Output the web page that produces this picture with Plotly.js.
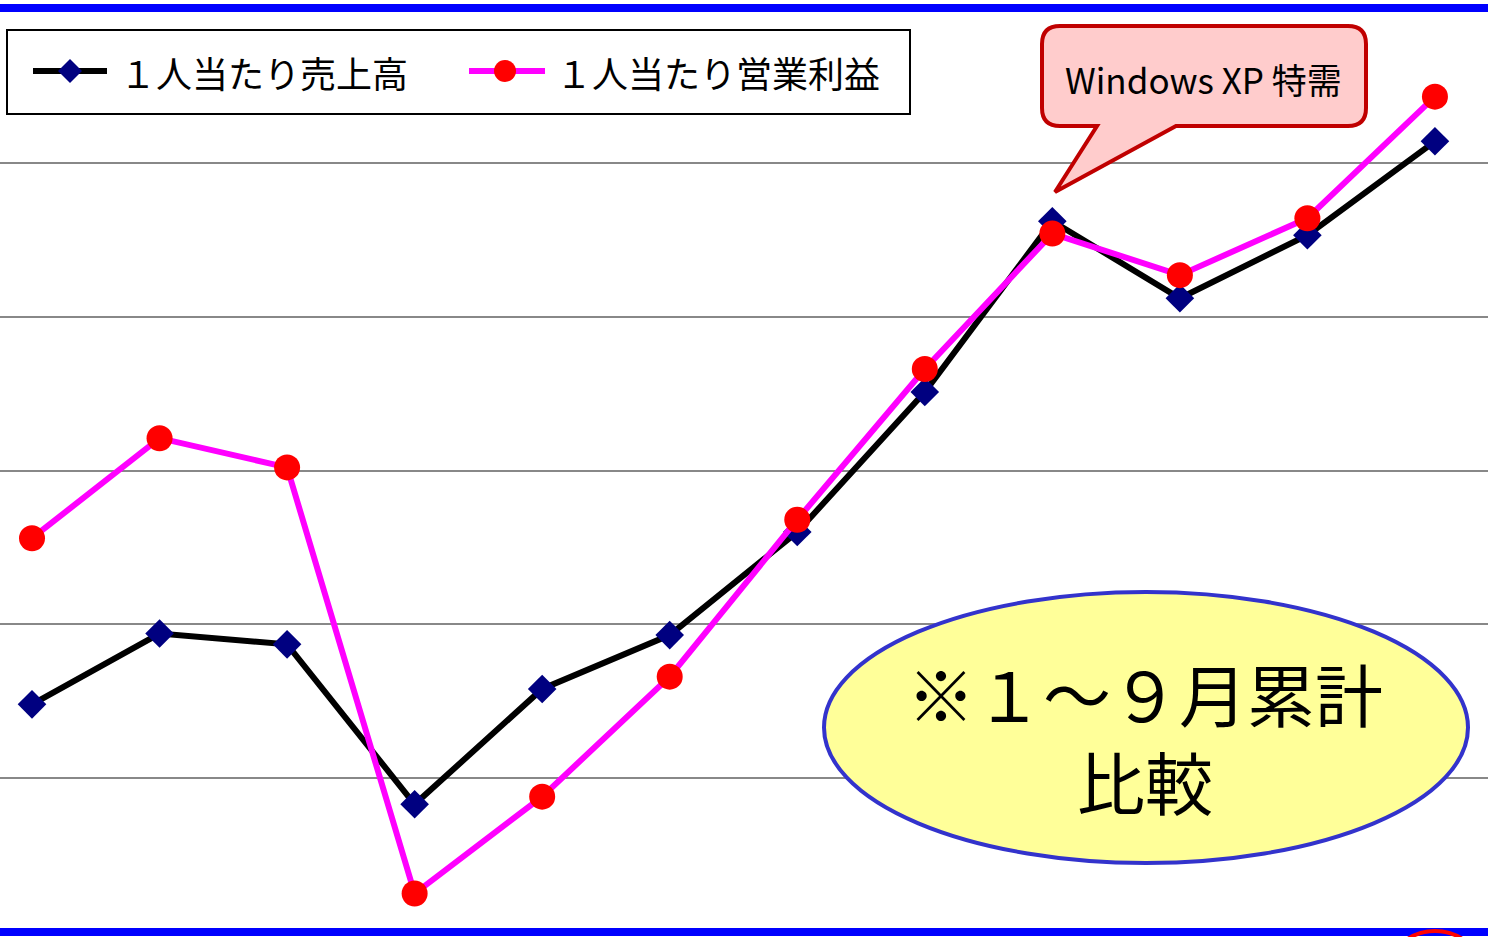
<!DOCTYPE html>
<html>
<head>
<meta charset="utf-8">
<script src="https://cdn.plot.ly/plotly-3.0.1.min.js"></script>
<style>html,body{margin:0;padding:0;background:#fff;}#chart{width:1488px;height:937px;}</style>
</head>
<body>
<div id="chart"></div>
<script>
// ---- data (y axis has no labels, gridline spacing = 1 unit) ----
const periods = [1, 2, 3, 4, 5, 6, 7, 8, 9, 10, 11, 12];
const salesPerHead = [1.48, 1.94, 1.87, 0.83, 1.58, 1.93, 2.60, 3.51, 4.62, 4.12, 4.53, 5.14];
const profitPerHead = [2.56, 3.21, 3.02, 0.25, 0.88, 1.66, 2.68, 3.66, 4.54, 4.27, 4.64, 5.43];
const seriesNames = ['１人当たり売上高', '１人当たり営業利益'];
const calloutText = 'Windows XP 特需';
const noteLines = ['※１～９月累計', '比較'];

// ---- geometry helpers (pixel -> paper) ----
const W = 1488, H = 937, T = 9, B = 932;
const fx = x => x / W;
const fy = y => (B - y) / (B - T);
const FONT = '"Noto Sans CJK JP", "Noto Sans", sans-serif';

const traces = [
  {
    x: periods, y: salesPerHead, name: seriesNames[0], type: 'scatter', mode: 'lines+markers',
    line: {color: '#000000', width: 6},
    marker: {symbol: 'diamond', color: '#000080', size: 22},
    showlegend: false, cliponaxis: false
  },
  {
    x: periods, y: profitPerHead, name: seriesNames[1], type: 'scatter', mode: 'lines+markers',
    line: {color: '#FF00FF', width: 6},
    marker: {symbol: 'circle', color: '#FF0000', size: 26},
    showlegend: false, cliponaxis: false
  }
];

// callout path
function calloutPath() {
  const L = 1042, Tp = 26, R = 1366, Bt = 126, r = 18;
  const P = (x, y) => fx(x) + ',' + fy(y);
  return 'M' + P(L + r, Tp) + ' L' + P(R - r, Tp) + ' Q' + P(R, Tp) + ' ' + P(R, Tp + r) +
    ' L' + P(R, Bt - r) + ' Q' + P(R, Bt) + ' ' + P(R - r, Bt) +
    ' L' + P(1176, Bt) + ' L' + P(1055, 192) + ' L' + P(1097, Bt) +
    ' L' + P(L + r, Bt) + ' Q' + P(L, Bt) + ' ' + P(L, Bt - r) +
    ' L' + P(L, Tp + r) + ' Q' + P(L, Tp) + ' ' + P(L + r, Tp) + ' Z';
}
function diamondPath(cx, cy, h) {
  const P = (x, y) => fx(x) + ',' + fy(y);
  return 'M' + P(cx, cy - h) + ' L' + P(cx + h, cy) + ' L' + P(cx, cy + h) + ' L' + P(cx - h, cy) + ' Z';
}

const shapes = [
  // frame lines (blue)
  {type: 'line', xref: 'paper', yref: 'paper', x0: 0, x1: 1, y0: fy(8), y1: fy(8), line: {color: '#0000FF', width: 8}},
  {type: 'line', xref: 'paper', yref: 'paper', x0: 0, x1: 1, y0: fy(932), y1: fy(932), line: {color: '#0000FF', width: 8}},
  // cut-off ring at bottom right
  {type: 'circle', xref: 'paper', yref: 'paper', x0: fx(1385), x1: fx(1485), y0: fy(931), y1: fy(1031), line: {color: '#FF0000', width: 4}},
  // legend box
  {type: 'rect', xref: 'paper', yref: 'paper', x0: fx(7), x1: fx(910), y0: fy(30), y1: fy(114), fillcolor: '#FFFFFF', line: {color: '#000000', width: 2}},
  {type: 'line', xref: 'paper', yref: 'paper', x0: fx(33), x1: fx(107), y0: fy(71), y1: fy(71), line: {color: '#000000', width: 6}},
  {type: 'path', xref: 'paper', yref: 'paper', path: diamondPath(70, 71, 12), fillcolor: '#000080', line: {width: 0}},
  {type: 'line', xref: 'paper', yref: 'paper', x0: fx(469), x1: fx(545), y0: fy(71), y1: fy(71), line: {color: '#FF00FF', width: 6}},
  {type: 'circle', xref: 'paper', yref: 'paper', x0: fx(494), x1: fx(516), y0: fy(60), y1: fy(82), fillcolor: '#FF0000', line: {width: 0}},
  // callout
  {type: 'path', xref: 'paper', yref: 'paper', path: calloutPath(), fillcolor: '#FFCCCC', line: {color: '#C00000', width: 4}},
  // ellipse
  {type: 'circle', xref: 'paper', yref: 'paper', x0: fx(824), x1: fx(1468), y0: fy(592), y1: fy(863), fillcolor: '#FFFF99', line: {color: '#3333CC', width: 4}}
];

const annotations = [
  {xref: 'paper', yref: 'paper', x: fx(118), y: fy(72), xanchor: 'left', yanchor: 'middle', showarrow: false,
   text: seriesNames[0], font: {family: FONT, size: 36, color: '#000000'}},
  {xref: 'paper', yref: 'paper', x: fx(554), y: fy(72), xanchor: 'left', yanchor: 'middle', showarrow: false,
   text: seriesNames[1], font: {family: FONT, size: 36, color: '#000000'}},
  {xref: 'paper', yref: 'paper', x: fx(1203), y: fy(78), xanchor: 'center', yanchor: 'middle', showarrow: false,
   text: calloutText, font: {family: FONT, size: 35, color: '#000000'}},
  {xref: 'paper', yref: 'paper', x: fx(1145), y: fy(736), xanchor: 'center', yanchor: 'middle', showarrow: false,
   text: noteLines.join('<br>'), font: {family: FONT, size: 68, color: '#000000'}}
];

const layout = {
  width: W, height: H,
  margin: {l: 0, r: 0, t: T, b: H - B, pad: 0},
  paper_bgcolor: '#FFFFFF', plot_bgcolor: '#FFFFFF',
  showlegend: false,
  xaxis: {range: [0.749, 12.416], showgrid: false, zeroline: false, showticklabels: false, ticks: '', showline: false, fixedrange: true},
  yaxis: {range: [0, 6], dtick: 1, tick0: 0, showgrid: true, gridcolor: '#888888', gridwidth: 2,
          zeroline: false, showticklabels: false, ticks: '', showline: false, fixedrange: true},
  shapes: shapes,
  annotations: annotations,
  font: {family: FONT}
};

Plotly.newPlot('chart', traces, layout, {displayModeBar: false, staticPlot: true});
</script>
</body>
</html>
